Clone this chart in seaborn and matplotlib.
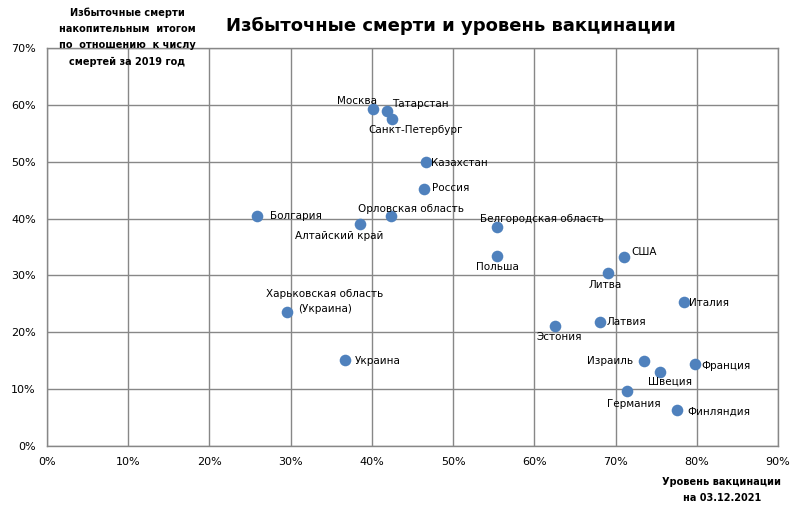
import matplotlib
matplotlib.use("Agg")
import matplotlib.pyplot as plt
import seaborn as sns
import pandas as pd
from matplotlib.ticker import FuncFormatter, MultipleLocator

names = ["Москва", "Татарстан", "Санкт-Петербург", "Казахстан", "Россия",
         "Орловская область", "Алтайский край", "Болгария", "Белгородская область",
         "Польша", "США", "Литва", "Италия", "Латвия", "Эстония", "Израиль",
         "Франция", "Швеция", "Германия", "Финляндия",
         "Харьковская область\n(Украина)", "Украина"]
vaccination = [40.1, 41.8, 42.5, 46.7, 46.4, 42.3, 38.5, 25.8, 55.4,
               55.4, 71.0, 69.1, 78.4, 68.1, 62.6, 73.5,
               79.8, 75.5, 71.4, 77.6, 29.5, 36.7]
excess = [59.3, 58.9, 57.5, 49.9, 45.2, 40.5, 39.0, 40.5, 38.5,
          33.4, 33.2, 30.4, 25.3, 21.8, 21.1, 14.9,
          14.4, 13.0, 9.7, 6.3, 23.6, 15.1]

# label offsets in pixels (dx, dy up positive) and alignment
label_pos = {
    "Москва": (4, 8, "right"),
    "Татарстан": (6, 7, "left"),
    "Санкт-Петербург": (23, -11, "center"),
    "Казахстан": (5, -1, "left"),
    "Россия": (8, 1, "left"),
    "Орловская область": (20, 7, "center"),
    "Алтайский край": (-21, -12, "center"),
    "Болгария": (13, 0, "left"),
    "Белгородская область": (45, 8, "center"),
    "Польша": (0, -11, "center"),
    "США": (8, 5, "left"),
    "Литва": (-3, -12, "center"),
    "Италия": (5, -1, "left"),
    "Латвия": (6, 0, "left"),
    "Эстония": (4, -11, "center"),
    "Израиль": (-11, 0, "right"),
    "Франция": (6, -2, "left"),
    "Швеция": (10, -9, "center"),
    "Германия": (7, -13, "center"),
    "Финляндия": (10, -1, "left"),
    "Харьковская область\n(Украина)": (38, 10, "center"),
    "Украина": (10, -1, "left"),
}

df = pd.DataFrame({"name": names, "vac": vaccination, "exc": excess})

sns.set_theme(style="white")
plt.rcParams["font.family"] = ["DejaVu Sans"]
plt.rcParams["text.color"] = "#000000"
plt.rcParams["axes.labelcolor"] = "#000000"
plt.rcParams["xtick.color"] = "#000000"
plt.rcParams["ytick.color"] = "#000000"

fig = plt.figure(figsize=(8.03, 5.14), dpi=100)
ax = fig.add_axes([47/803, 68/514, 731/803, 398/514])

sns.scatterplot(data=df, x="vac", y="exc", ax=ax, color="#4F81BD",
                s=70, edgecolor="#4F81BD", linewidth=0, zorder=3)

for n, x, y in zip(names, vaccination, excess):
    dx, dy, ha = label_pos[n]
    ax.annotate(n, (x, y), xytext=(dx, dy), textcoords="offset pixels",
                ha=ha, va="center", fontsize=7.5, color="#000000",
                multialignment="center", linespacing=1.6, zorder=4)

ax.set_xlim(0, 90)
ax.set_ylim(0, 70)
ax.xaxis.set_major_locator(MultipleLocator(10))
ax.yaxis.set_major_locator(MultipleLocator(10))
ax.xaxis.set_major_formatter(FuncFormatter(lambda v, p: f"{v:.0f}%"))
ax.yaxis.set_major_formatter(FuncFormatter(lambda v, p: f"{v:.0f}%"))
ax.grid(True, color="#878787", linewidth=1)
ax.set_axisbelow(True)
for s in ax.spines.values():
    s.set_color("#878787")
    s.set_linewidth(1)
ax.tick_params(axis="both", length=0, labelsize=8, pad=8, colors="#000000")
ax.set_xlabel("")
ax.set_ylabel("")

fig.text(451/803, 1 - 26/514, "Избыточные смерти и уровень вакцинации",
         ha="center", va="center", fontsize=13, fontweight="bold", color="#000000")
fig.text(127/803, 1 - 37/514,
         "Избыточные смерти\nнакопительным  итогом\nпо  отношению  к числу\nсмертей за 2019 год",
         ha="center", va="center", fontsize=7, fontweight="bold", linespacing=1.8,
         color="#000000")
fig.text(722/803, 1 - 490/514, "Уровень вакцинации\nна 03.12.2021",
         ha="center", va="center", fontsize=7, fontweight="bold", linespacing=1.65,
         color="#000000")

fig.savefig("out.png", dpi=100)
